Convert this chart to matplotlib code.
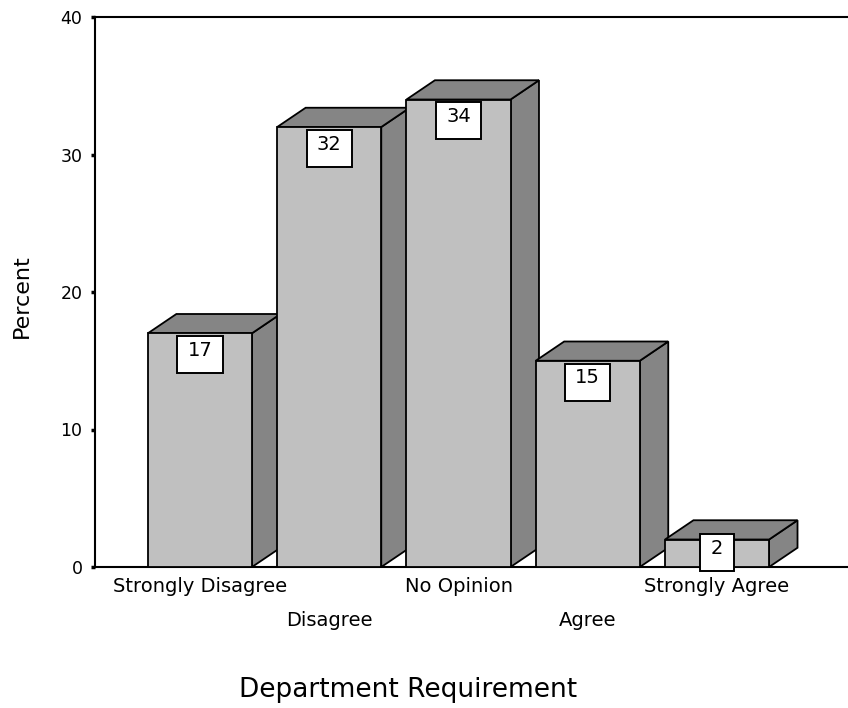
import numpy as np
import matplotlib.pyplot as plt
from matplotlib.patches import Polygon, Rectangle

# Data
categories = ["Strongly Disagree", "Disagree", "No Opinion", "Agree", "Strongly Agree"]
percent = [17, 32, 34, 15, 2]

front_color = "#c0c0c0"
shade_color = "#858585"

fig = plt.figure(figsize=(8.48, 7.08), dpi=100)
ax = fig.add_axes([95 / 848, 141 / 708, 753 / 848, 550 / 708])

x = np.arange(len(categories))
width = 0.805
dx, dy = 0.22, 1.4   # depth of the 3D effect in data units

for i, v in enumerate(percent):
    x0, x1 = x[i] - width / 2, x[i] + width / 2
    # side face
    side = Polygon([(x1, 0), (x1 + dx, dy), (x1 + dx, v + dy), (x1, v)],
                   closed=True, facecolor=shade_color, edgecolor="black", lw=1.3, zorder=2 + i * 3)
    ax.add_patch(side)
    # top face
    top = Polygon([(x0, v), (x0 + dx, v + dy), (x1 + dx, v + dy), (x1, v)],
                  closed=True, facecolor=shade_color, edgecolor="black", lw=1.3, zorder=2 + i * 3)
    ax.add_patch(top)
    # front face
    ax.bar(x[i], v, width=width, color=front_color, edgecolor="black", lw=1.3, zorder=3 + i * 3)

    # value label box (kept above the axis line for short bars)
    bw = 0.35 if v >= 10 else 0.26
    bh = 2.7
    btop = max(v - 0.2, 2.4)
    box = Rectangle((x[i] - bw / 2, btop - bh), bw, bh, facecolor="white",
                    edgecolor="black", lw=1.4, zorder=4 + i * 3, clip_on=False)
    ax.add_patch(box)
    ax.text(x[i], btop - 0.35, str(v), ha="center", va="top", fontsize=14,
            zorder=5 + i * 3)

ax.set_xlim(-0.812, 5.013)
ax.set_ylim(0, 40)

ax.spines["right"].set_visible(False)
for s in ["left", "bottom", "top"]:
    ax.spines[s].set_linewidth(1.5)

ax.set_yticks([0, 10, 20, 30, 40])
ax.tick_params(axis="y", direction="out", length=3, width=2.5, labelsize=12.5, pad=6)
ax.set_xticks([])

# staggered category labels
for i, c in enumerate(categories):
    off = -20 if i % 2 == 0 else -54
    ax.annotate(c, xy=(x[i], 0), xycoords=("data", "axes fraction"),
                xytext=(0, off * 0.72), textcoords="offset points",
                ha="center", va="center", fontsize=14, annotation_clip=False)

fig.text(408 / 848, 1 - 690 / 708, "Department Requirement", ha="center", va="center", fontsize=19)
fig.text(22 / 848, 1 - 296 / 708, "Percent", ha="center", va="center", rotation=90, fontsize=16)

fig.savefig("out.png", dpi=100)
